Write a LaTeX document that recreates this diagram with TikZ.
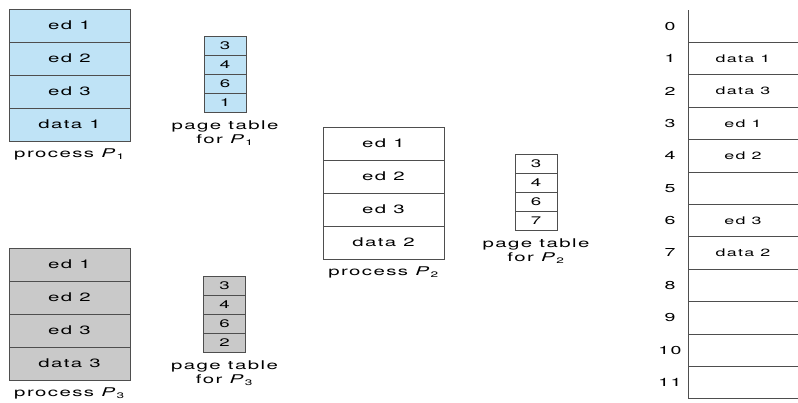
\documentclass[tikz,border=0pt]{standalone}
\usepackage{fontspec}
\setmainfont{TeX Gyre Heros}[FakeStretch=1.7,LetterSpace=12]
\usetikzlibrary{positioning}

\definecolor{paleblue}{RGB}{191,227,246}
\definecolor{palegray}{RGB}{201,201,201}
\definecolor{rulegray}{RGB}{78,78,78}

\begin{document}
\begin{tikzpicture}[x=1pt, y=-1pt,
    seg/.style={draw=rulegray, line width=0.8pt, minimum width=121pt, minimum height=33pt,
                inner sep=0pt, outer sep=0pt, font=\fontsize{12}{14}\selectfont},
    pte/.style={draw=rulegray, line width=0.8pt, minimum width=42pt, minimum height=19pt,
                inner sep=0pt, outer sep=0pt, font=\fontsize{11}{13}\selectfont},
    frame/.style={minimum width=110pt, minimum height=32.4pt, inner sep=0pt, outer sep=0pt,
                font=\fontsize{10.5}{12}\selectfont},
    frameno/.style={inner sep=0pt, font=\fontsize{11.5}{13}\selectfont},
    caption/.style={align=center, inner sep=0pt, font=\fontsize{12}{14}\selectfont}]
  \fill[white] (0,0) rectangle (798,402);
  \useasboundingbox (0,0) rectangle (798,402);

  % process P1 and its page table
  \foreach \i/\t in {1/ed 1, 2/ed 2, 3/ed 3, 4/data 1}
    \node[seg, fill=paleblue] (pa\i) at (69.5, {9+33*(\i-0.5)}) {\t};
  \node[caption, below=8pt of pa4] (capa) {process \textit{P}\textsubscript{1}};
  \foreach \i/\v in {1/3, 2/4, 3/6, 4/1}
    \node[pte, fill=paleblue] (ta\i) at (225, {36+19*(\i-0.5)}) {\v};
  \node[caption, below=9pt of ta4] (tcapa) {page table\\for \textit{P}\textsubscript{1}};

  % process P2 and its page table
  \foreach \i/\t in {1/ed 1, 2/ed 2, 3/ed 3, 4/data 2}
    \node[seg] (pb\i) at (383.5, {127+33*(\i-0.5)}) {\t};
  \node[caption, below=8pt of pb4] (capb) {process \textit{P}\textsubscript{2}};
  \foreach \i/\v in {1/3, 2/4, 3/6, 4/7}
    \node[pte] (tb\i) at (536, {154+19*(\i-0.5)}) {\v};
  \node[caption, below=9pt of tb4] (tcapb) {page table\\for \textit{P}\textsubscript{2}};

  % process P3 and its page table
  \foreach \i/\t in {1/ed 1, 2/ed 2, 3/ed 3, 4/data 3}
    \node[seg, fill=palegray] (pc\i) at (69.5, {248+33*(\i-0.5)}) {\t};
  \node[caption, below=8pt of pc4] (capc) {process \textit{P}\textsubscript{3}};
  \foreach \i/\v in {1/3, 2/4, 3/6, 4/2}
    \node[pte, fill=palegray] (tc\i) at (224.5, {276+19*(\i-0.5)}) {\v};
  \node[caption, below=9pt of tc4] (tcapc) {page table\\for \textit{P}\textsubscript{3}};

  % physical memory frames
  \foreach \i/\t in {0/{}, 1/data 1, 2/data 3, 3/ed 1, 4/ed 2, 5/{}, 6/ed 3, 7/data 2,
                     8/{}, 9/{}, 10/{}, 11/{}} {
    \node[frame] (f\i) at (743, {10+32.4*(\i+0.5)}) {\t};
    \node[frameno] (n\i) at ([xshift=-18pt]f\i.west) {\i};
    \draw[rulegray, line width=0.8pt] (f\i.south west) -- (f\i.south east);
  }
  \draw[rulegray, line width=0.8pt] (f0.north west) -- (f11.south west);
\end{tikzpicture}
\end{document}
